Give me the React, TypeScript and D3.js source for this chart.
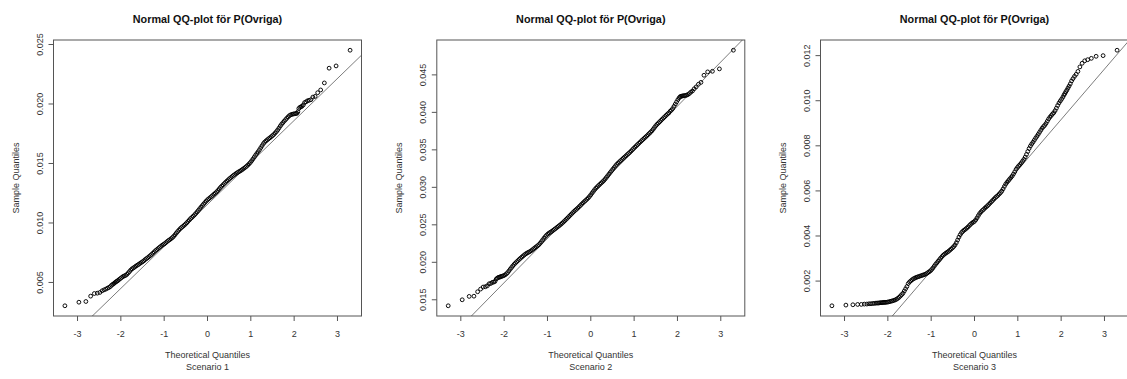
import React from "react";
import * as d3 from "d3";

// Theoretical normal quantiles (n = 1000): individual tail ranks + dense middle
const theoreticalQuantiles = [
  -3.291, -2.968, -2.807, -2.697, -2.612, -2.543, -2.484, -2.432, -2.387, -2.346,
  -2.308, -2.273, -2.241, -2.211, -2.183, -2.157, -2.132, -2.108, -2.086, -2.064,
  -2.04, -2.01, -1.98, -1.95, -1.92, -1.89, -1.86, -1.83, -1.8, -1.77,
  -1.74, -1.71, -1.68, -1.65, -1.62, -1.59, -1.56, -1.53, -1.5, -1.47,
  -1.44, -1.41, -1.38, -1.35, -1.32, -1.29, -1.26, -1.23, -1.2, -1.17,
  -1.14, -1.11, -1.08, -1.05, -1.02, -0.99, -0.96, -0.93, -0.9, -0.87,
  -0.84, -0.81, -0.78, -0.75, -0.72, -0.69, -0.66, -0.63, -0.6, -0.57,
  -0.54, -0.51, -0.48, -0.45, -0.42, -0.39, -0.36, -0.33, -0.3, -0.27,
  -0.24, -0.21, -0.18, -0.15, -0.12, -0.09, -0.06, -0.03, 0.0,
  0.03, 0.06, 0.09, 0.12, 0.15, 0.18, 0.21, 0.24, 0.27, 0.3,
  0.33, 0.36, 0.39, 0.42, 0.45, 0.48, 0.51, 0.54, 0.57, 0.6,
  0.63, 0.66, 0.69, 0.72, 0.75, 0.78, 0.81, 0.84, 0.87, 0.9,
  0.93, 0.96, 0.99, 1.02, 1.05, 1.08, 1.11, 1.14, 1.17, 1.2,
  1.23, 1.26, 1.29, 1.32, 1.35, 1.38, 1.41, 1.44, 1.47, 1.5,
  1.53, 1.56, 1.59, 1.62, 1.65, 1.68, 1.71, 1.74, 1.77, 1.8,
  1.83, 1.86, 1.89, 1.92, 1.95, 1.98, 2.01, 2.04,
  2.064, 2.086, 2.108, 2.132, 2.157, 2.183, 2.211, 2.241, 2.273, 2.308,
  2.346, 2.387, 2.432, 2.484, 2.543, 2.612, 2.697, 2.807, 2.968, 3.291,
];

const sampleScenario1 = [
  0.00304, 0.00334, 0.0034, 0.00385, 0.00407, 0.0041, 0.00416, 0.0043, 0.00438, 0.00444,
  0.00452, 0.00458, 0.00466, 0.00478, 0.00485, 0.00492, 0.005, 0.00506, 0.00512, 0.00517,
  0.00525, 0.00533, 0.00542, 0.0055, 0.00555, 0.0056, 0.00568, 0.0058, 0.00592, 0.00605,
  0.00615, 0.00622, 0.0063, 0.00638, 0.00645, 0.00652, 0.0066, 0.00667, 0.00674, 0.00682,
  0.00692, 0.007, 0.00708, 0.00717, 0.00726, 0.00736, 0.00746, 0.00757, 0.00767, 0.00776,
  0.00785, 0.00794, 0.00803, 0.00812, 0.00819, 0.00826, 0.00835, 0.00844, 0.00853, 0.0086,
  0.00868, 0.00877, 0.00888, 0.00901, 0.00915, 0.00928, 0.0094, 0.00952, 0.00962, 0.00971,
  0.0098, 0.0099, 0.01001, 0.01013, 0.01025, 0.01037, 0.01047, 0.01057, 0.01068, 0.0108,
  0.01093, 0.01106, 0.0112, 0.01133, 0.01146, 0.01159, 0.01172, 0.01184, 0.01195,
  0.01204, 0.01213, 0.01222, 0.01232, 0.01242, 0.01251, 0.01261, 0.01273, 0.01286, 0.01299,
  0.0131, 0.01321, 0.01332, 0.01343, 0.01353, 0.01363, 0.01373, 0.01382, 0.01391, 0.014,
  0.01408, 0.01416, 0.01423, 0.0143, 0.01436, 0.01443, 0.01451, 0.01459, 0.01467, 0.01476,
  0.01486, 0.01497, 0.01509, 0.01523, 0.01538, 0.01554, 0.0157, 0.01585, 0.016, 0.01616,
  0.01633, 0.0165, 0.01667, 0.0168, 0.0169, 0.01699, 0.01708, 0.01716, 0.01725, 0.01734,
  0.01744, 0.01756, 0.01768, 0.01782, 0.01798, 0.01815, 0.0183, 0.01843, 0.01856, 0.01868,
  0.0188, 0.01892, 0.01902, 0.01909, 0.01913, 0.01916, 0.01918, 0.0192,
  0.01922, 0.01935, 0.01962, 0.01972, 0.01976, 0.01982, 0.01992, 0.02012, 0.02018, 0.02027,
  0.02031, 0.02036, 0.02058, 0.02064, 0.02095, 0.02118, 0.02177, 0.02301, 0.0232, 0.02452,
];

const sampleScenario2 = [
  0.0142, 0.015, 0.01545, 0.01548, 0.01607, 0.01643, 0.0167, 0.01674, 0.01687, 0.01714,
  0.01718, 0.01732, 0.01736, 0.01745, 0.01776, 0.0179, 0.01798, 0.01802, 0.01806, 0.01812,
  0.01816, 0.01822, 0.01832, 0.01845, 0.01862, 0.01885, 0.01908, 0.0193, 0.01952, 0.01972,
  0.0199, 0.02007, 0.02023, 0.0204, 0.02056, 0.02071, 0.02086, 0.021, 0.02113, 0.02124,
  0.02133, 0.02142, 0.02153, 0.02166, 0.0218, 0.02194, 0.02207, 0.0222, 0.02235, 0.02254,
  0.02276, 0.02299, 0.02322, 0.02343, 0.02362, 0.02378, 0.02391, 0.02402, 0.02413, 0.02426,
  0.02439, 0.02452, 0.02466, 0.02479, 0.02493, 0.02507, 0.02522, 0.02538, 0.02555, 0.02572,
  0.02589, 0.02607, 0.02625, 0.02642, 0.0266, 0.02677, 0.02693, 0.02708, 0.02724, 0.02741,
  0.02758, 0.02776, 0.02793, 0.02809, 0.02825, 0.02841, 0.02858, 0.02878, 0.029,
  0.02924, 0.02947, 0.0297, 0.0299, 0.03007, 0.03024, 0.03041, 0.03057, 0.03073, 0.0309,
  0.0311, 0.03132, 0.03154, 0.03176, 0.03199, 0.03221, 0.03243, 0.03265, 0.03287, 0.03307,
  0.03324, 0.0334, 0.03356, 0.03372, 0.03388, 0.03404, 0.0342, 0.03436, 0.03451, 0.03467,
  0.03484, 0.03502, 0.0352, 0.03537, 0.03554, 0.03571, 0.03588, 0.03604, 0.03621, 0.03637,
  0.03653, 0.03669, 0.03685, 0.03702, 0.03719, 0.03736, 0.03754, 0.03775, 0.03799, 0.03822,
  0.03841, 0.03858, 0.03875, 0.03893, 0.0391, 0.03927, 0.03944, 0.03961, 0.03978, 0.03992,
  0.04014, 0.0403, 0.0405, 0.0408, 0.0411, 0.0414, 0.0417, 0.04195,
  0.0421, 0.04215, 0.04218, 0.04221, 0.04223, 0.04225, 0.0423, 0.04237, 0.0425, 0.0427,
  0.04285, 0.04315, 0.0434, 0.04375, 0.044, 0.04495, 0.0454, 0.04548, 0.0458, 0.04829,
];

const sampleScenario3 = [
  0.000905, 0.000935, 0.00095, 0.000964, 0.000966, 0.000979, 0.000981, 0.000994, 0.000996, 0.001009,
  0.001011, 0.001024, 0.001025, 0.001027, 0.001038, 0.00104, 0.001042, 0.001053, 0.001055, 0.001057,
  0.00106, 0.001068, 0.001078, 0.001095, 0.00111, 0.001125, 0.001145, 0.001165, 0.001195, 0.001235,
  0.00128, 0.00134, 0.0014, 0.00146, 0.00156, 0.00166, 0.00176, 0.00189, 0.00196, 0.00201,
  0.00206, 0.0021, 0.00213, 0.00216, 0.00218, 0.0022, 0.00222, 0.00224, 0.00226, 0.00228,
  0.0023, 0.00233, 0.00237, 0.00241, 0.00245, 0.00251, 0.00258, 0.00266, 0.00274, 0.00281,
  0.00288, 0.00295, 0.00302, 0.00309, 0.00315, 0.0032, 0.00324, 0.00328, 0.00332, 0.00337,
  0.00342, 0.00347, 0.00353, 0.0036, 0.0037, 0.00382, 0.00395, 0.00406, 0.00415, 0.00421,
  0.00426, 0.0043, 0.00435, 0.0044, 0.00446, 0.00452, 0.00457, 0.00461, 0.00465,
  0.00472, 0.00481, 0.00491, 0.005, 0.00507, 0.00513, 0.00518, 0.00524, 0.00529, 0.00534,
  0.0054, 0.00546, 0.00552, 0.00558, 0.00564, 0.0057, 0.00575, 0.0058, 0.00586, 0.00592,
  0.00599, 0.00609, 0.0062, 0.0063, 0.00638, 0.00645, 0.00652, 0.00659, 0.00666, 0.00675,
  0.00685, 0.00696, 0.00704, 0.00711, 0.00717, 0.00724, 0.00732, 0.0074, 0.0075, 0.00762,
  0.00775, 0.00788, 0.00799, 0.00808, 0.00816, 0.00825, 0.00834, 0.00842, 0.00851, 0.0086,
  0.00869, 0.00878, 0.00885, 0.00891, 0.00899, 0.00909, 0.00919, 0.00927, 0.00934, 0.00941,
  0.00947, 0.00956, 0.00967, 0.00979, 0.0099, 0.00999, 0.01007, 0.01016,
  0.01025, 0.01032, 0.0104, 0.01047, 0.01056, 0.01065, 0.01075, 0.01088, 0.01098, 0.01108,
  0.01117, 0.0113, 0.0115, 0.01166, 0.01177, 0.01182, 0.01188, 0.01197, 0.012, 0.01224,
];

// Reference lines (qqline: intercept + slope) for each scenario
const qqLineIntercepts = [0.01156, 0.02906, 0.004694];
const qqLineSlopes = [0.003529, 0.005887, 0.002237];

const xTicks = [-3, -2, -1, 0, 1, 2, 3];
const yTicks1 = [0.005, 0.01, 0.015, 0.02, 0.025];
const yTicks2 = [0.015, 0.02, 0.025, 0.03, 0.035, 0.04, 0.045];
const yTicks3 = [0.002, 0.004, 0.006, 0.008, 0.01, 0.012];

const panelTitle = "Normal QQ-plot för P(Ovriga)";
const xAxisTitle = "Theoretical Quantiles";
const yAxisTitle = "Sample Quantiles";
const scenarioLabels = ["Scenario 1", "Scenario 2", "Scenario 3"];

const samples = [sampleScenario1, sampleScenario2, sampleScenario3];
const yTickSets = [yTicks1, yTicks2, yTicks3];

const W = 1127;
const H = 379;
const panelLefts = [53.5, 436.8, 820.5];
const panelWidth = 308;
const plotTop = 40;
const plotBottom = 316;
const FONT = "'Liberation Sans', Arial, Helvetica, sans-serif";

function rangeExtended(vals: number[]): [number, number] {
  const [mn, mx] = d3.extent(vals) as [number, number];
  const pad = (mx - mn) * 0.04;
  return [mn - pad, mx + pad];
}

function Panel({ idx }: { idx: number }) {
  const left = panelLefts[idx];
  const right = left + panelWidth;
  const sample = samples[idx];
  const n = Math.min(sample.length, theoreticalQuantiles.length);
  const xs = theoreticalQuantiles.slice(0, n);
  const ys = sample.slice(0, n);
  const x = d3.scaleLinear().domain(rangeExtended(xs)).range([left, right]);
  const y = d3.scaleLinear().domain(rangeExtended(ys)).range([plotBottom, plotTop]);
  const fmt = d3.format(".3f");
  const [xd0, xd1] = x.domain();
  const a = qqLineIntercepts[idx];
  const b = qqLineSlopes[idx];
  const line = d3.line<number>().x((d) => x(d)).y((d) => y(a + b * d));
  const cx = (left + right) / 2;
  const cy = (plotTop + plotBottom) / 2;
  const clipId = `clip${idx}`;
  const axisColor = "#555";
  const textColor = "#333";
  return (
    <g>
      <defs>
        <clipPath id={clipId}>
          <rect x={left} y={plotTop} width={right - left} height={plotBottom - plotTop} />
        </clipPath>
      </defs>
      <text x={cx} y={23.3} textAnchor="middle" fontFamily={FONT} fontWeight="bold" fontSize={10.8} fill="#111">
        {panelTitle}
      </text>
      <rect x={left} y={plotTop} width={right - left} height={plotBottom - plotTop} fill="none" stroke={axisColor} strokeWidth={1} />
      {xTicks.map((t) => (
        <g key={`xt${t}`}>
          <line x1={x(t)} x2={x(t)} y1={plotBottom} y2={plotBottom + 5} stroke={axisColor} strokeWidth={1} />
          <text x={x(t)} y={337} textAnchor="middle" fontFamily={FONT} fontSize={9} fill={textColor}>
            {t}
          </text>
        </g>
      ))}
      {yTickSets[idx].map((t) => (
        <g key={`yt${t}`}>
          <line x1={left - 5} x2={left} y1={y(t)} y2={y(t)} stroke={axisColor} strokeWidth={1} />
          <text
            transform={`translate(${left - 11},${y(t)}) rotate(-90)`}
            textAnchor="middle"
            fontFamily={FONT}
            fontSize={9}
            fill={textColor}
          >
            {fmt(t)}
          </text>
        </g>
      ))}
      <text x={cx} y={358} textAnchor="middle" fontFamily={FONT} fontSize={9} fill={textColor}>
        {xAxisTitle}
      </text>
      <text x={cx} y={369.5} textAnchor="middle" fontFamily={FONT} fontSize={9} fill={textColor}>
        {scenarioLabels[idx]}
      </text>
      <text
        transform={`translate(${left - 34.5},${cy}) rotate(-90)`}
        textAnchor="middle"
        fontFamily={FONT}
        fontSize={9}
        fill={textColor}
      >
        {yAxisTitle}
      </text>
      <g clipPath={`url(#${clipId})`}>
        <path d={line([xd0, xd1]) || ""} fill="none" stroke="#444" strokeWidth={0.7} />
        {xs.map((q, i) => (
          <circle key={i} cx={x(q)} cy={y(ys[i])} r={1.9} fill="none" stroke="#000" strokeWidth={0.95} />
        ))}
      </g>
    </g>
  );
}

export default function App() {
  return (
    <svg
      width={W}
      height={H}
      viewBox={`0 0 ${W} ${H}`}
      style={{ position: "absolute", left: 0, top: 0, background: "#fff" }}
    >
      <rect x={0} y={0} width={W} height={H} fill="#fff" />
      {[0, 1, 2].map((i) => (
        <Panel key={i} idx={i} />
      ))}
    </svg>
  );
}
